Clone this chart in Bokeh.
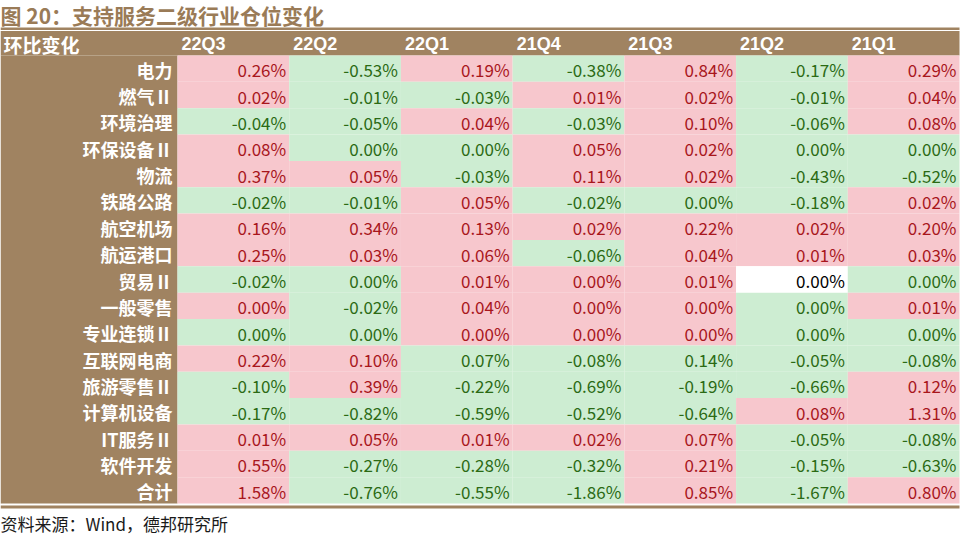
from bokeh.plotting import figure
from bokeh.models import Range1d, ColumnDataSource
from bokeh.embed import file_html
from bokeh.resources import INLINE
from bokeh.core.properties import value

# ---------------- data ----------------
title_text = "图 20：支持服务二级行业仓位变化"
source_text = "资料来源：Wind，德邦研究所"
corner_label = "环比变化"

quarters = ["22Q3", "22Q2", "22Q1", "21Q4", "21Q3", "21Q2", "21Q1"]

industries = ["电力", "燃气Ⅱ", "环境治理", "环保设备Ⅱ", "物流", "铁路公路", "航空机场",
              "航运港口", "贸易Ⅱ", "一般零售", "专业连锁Ⅱ", "互联网电商", "旅游零售Ⅱ",
              "计算机设备", "IT服务Ⅱ", "软件开发", "合计"]

# quarter-on-quarter position change (%)
v_22Q3 = [0.26, 0.02, -0.04, 0.08, 0.37, -0.02, 0.16, 0.25, -0.02, 0.00, 0.00, 0.22, -0.10, -0.17, 0.01, 0.55, 1.58]
v_22Q2 = [-0.53, -0.01, -0.05, 0.00, 0.05, -0.01, 0.34, 0.03, 0.00, -0.02, 0.00, 0.10, 0.39, -0.82, 0.05, -0.27, -0.76]
v_22Q1 = [0.19, -0.03, 0.04, 0.00, -0.03, 0.05, 0.13, 0.06, 0.01, 0.04, 0.00, 0.07, -0.22, -0.59, 0.01, -0.28, -0.55]
v_21Q4 = [-0.38, 0.01, -0.03, 0.05, 0.11, -0.02, 0.02, -0.06, 0.00, 0.00, 0.00, -0.08, -0.69, -0.52, 0.02, -0.32, -1.86]
v_21Q3 = [0.84, 0.02, 0.10, 0.02, 0.02, 0.00, 0.22, 0.04, 0.01, 0.00, 0.00, 0.14, -0.19, -0.64, 0.07, 0.21, 0.85]
v_21Q2 = [-0.17, -0.01, -0.06, 0.00, -0.43, -0.18, 0.02, 0.01, 0.00, 0.00, 0.00, -0.05, -0.66, 0.08, -0.05, -0.15, -1.67]
v_21Q1 = [0.29, 0.04, 0.08, 0.00, -0.52, 0.02, 0.20, 0.03, 0.00, 0.01, 0.00, -0.08, 0.12, 1.31, -0.08, -0.63, 0.80]

# sign class of each cell (p = up / pink, n = down / green, w = unchanged / white)
s_22Q3 = "ppnppnppnpnpnnppp"
s_22Q2 = "nnnnpnppnnnppnpnn"
s_22Q1 = "pnpnnppppppnnnpnn"
s_21Q4 = "npnppnpnpppnnnpnn"
s_21Q3 = "pppppnpppppnnnppp"
s_21Q2 = "nnnnnnppwnnnnpnnn"
s_21Q1 = "pppnnpppnpnnppnnp"

values = [v_22Q3, v_22Q2, v_22Q1, v_21Q4, v_21Q3, v_21Q2, v_21Q1]
signs = [s_22Q3, s_22Q2, s_22Q1, s_21Q4, s_21Q3, s_21Q2, s_21Q1]

# ---------------- style ----------------
BROWN = "#a08361"
TITLE_C = "#9a7b57"
FILL = {"p": "#f7c7cd", "n": "#cdedd2", "w": "#ffffff"}
TXT = {"p": "#a8161c", "n": "#2b6a14", "w": "#000000"}
CJK = "Noto Sans CJK SC"

W, H = 961, 535
table_l, table_r = 0, 959
label_r = 177
head_top, head_bot = 30.5, 55
row_h = (503 - head_bot) / len(industries)
col_w = (table_r - label_r) / len(quarters)
body_bot = head_bot + row_h * len(industries)

p = figure(width=W, height=H, output_backend="svg", toolbar_location=None,
           x_range=Range1d(0, W), y_range=Range1d(H, 0), min_border=0)
p.axis.visible = False
p.grid.visible = False
p.outline_line_color = None
p.background_fill_color = "white"
p.border_fill_color = "white"

# frame: top line, header band, label column, bottom line
p.quad(left=[table_l], right=[table_r], top=[27], bottom=[29.5], fill_color=BROWN, line_color=None)
p.quad(left=[table_l], right=[table_r], top=[head_top], bottom=[head_bot], fill_color=BROWN, line_color=None)
p.quad(left=[table_l], right=[label_r], top=[head_bot], bottom=[body_bot], fill_color=BROWN, line_color=None)
p.quad(left=[table_l], right=[table_r], top=[body_bot + 2], bottom=[body_bot + 5], fill_color=BROWN, line_color=None)

# cells
cl, cr, ct, cb, cf, tx, ty, tt, tc = [], [], [], [], [], [], [], [], []
for j, (vals, sg) in enumerate(zip(values, signs)):
    for i, v in enumerate(vals):
        k = sg[i]
        l = label_r + j * col_w
        cl.append(l); cr.append(l + col_w)
        ct.append(head_bot + i * row_h); cb.append(head_bot + (i + 1) * row_h)
        cf.append(FILL[k])
        tx.append(l + col_w - 3); ty.append(head_bot + (i + 0.5) * row_h + 1)
        tt.append(f"{v:.2f}%"); tc.append(TXT[k])

cells = ColumnDataSource(dict(l=cl, r=cr, t=ct, b=cb, f=cf))
p.quad(left="l", right="r", top="t", bottom="b", fill_color="f", line_color=None, source=cells)
labels = ColumnDataSource(dict(x=tx, y=ty, t=tt, c=tc))
p.text(x="x", y="y", text="t", text_color="c", source=labels, text_align="right",
       text_baseline="middle", text_font=value(CJK), text_font_size="17px")

# header texts
hx = [label_r + j * col_w + 4 for j in range(len(quarters))]
hy = [(head_top + head_bot) / 2 + 1] * len(quarters)
p.text(x=hx, y=hy, text=quarters, text_color="white", text_align="left", text_baseline="middle",
       text_font=value("Liberation Sans"), text_font_style="bold", text_font_size="18px")
p.text(x=[3], y=[(head_top + head_bot) / 2 + 1], text=[corner_label], text_color="white",
       text_align="left", text_baseline="middle", text_font=value(CJK),
       text_font_style="bold", text_font_size="19px")

# row labels
ry = [head_bot + (i + 0.5) * row_h + 1 for i in range(len(industries))]
p.text(x=[label_r - 5] * len(industries), y=ry, text=industries, text_color="white",
       text_align="right", text_baseline="middle", text_font=value(CJK),
       text_font_style="bold", text_font_size="18px")

# title and source
p.text(x=[0], y=[14], text=[title_text], text_color=TITLE_C, text_align="left", text_baseline="middle",
       text_font=value(CJK), text_font_style="bold", text_font_size="21px")
p.text(x=[0], y=[523], text=[source_text], text_color="#1a1a1a", text_align="left",
       text_baseline="middle", text_font=value(CJK), text_font_size="17px")

open("out.html", "w").write(file_html(p, INLINE))
